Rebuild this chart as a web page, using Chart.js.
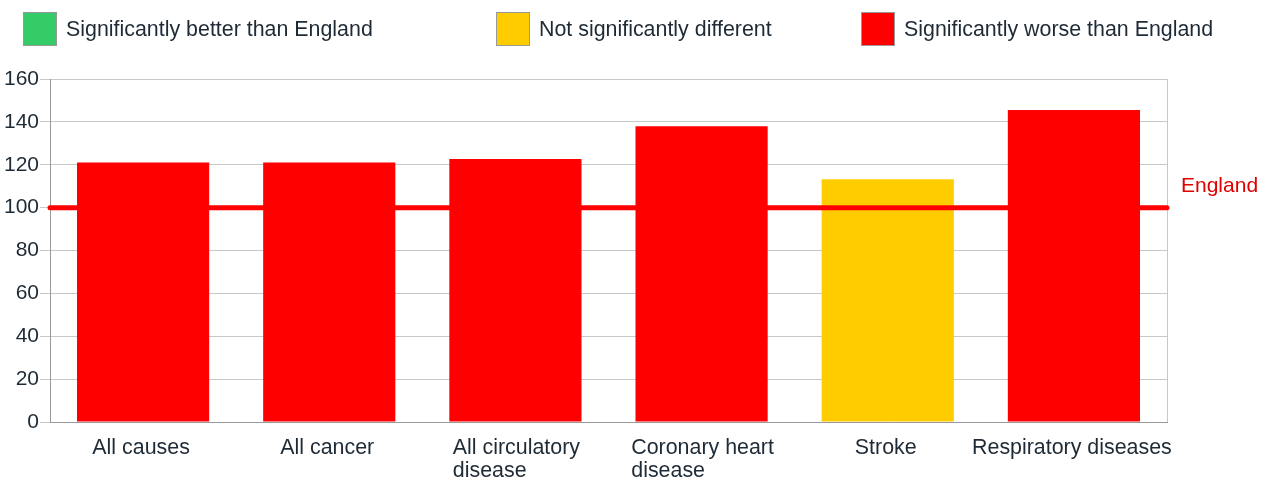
<!DOCTYPE html>
<html>
<head>
<meta charset="utf-8">
<script src="https://cdn.jsdelivr.net/npm/chart.js@4.4.1/dist/chart.umd.min.js"></script>
<style>
    body { margin: 0; background: #fff; font-family: 'Liberation Sans', Arial, sans-serif; }
    #wrap { position: relative; width: 1269px; height: 482px; }
    .key { position: absolute; top: 12px; height: 34px; display: flex; align-items: center; font-size: 21.4px; color: #1e2a35; white-space: nowrap; }
    .key .box { width: 32px; height: 32px; border: 1px solid #999; margin-right: 9px; }
    canvas { position: absolute; left: 0; top: 0; }
</style>
</head>
<body>
<div id="wrap">
    <canvas id="chart" width="1269" height="482"></canvas>
    <div class="key" style="left:23px"><span class="box" style="background:#33cc66"></span>Significantly better than England</div>
    <div class="key" style="left:496px"><span class="box" style="background:#ffcc00"></span>Not significantly different</div>
    <div class="key" style="left:861px"><span class="box" style="background:#ff0000"></span>Significantly worse than England</div>
</div>
<script>
const categories = [['All causes'], ['All cancer'], ['All circulatory', 'disease'], ['Coronary heart', 'disease'], ['Stroke'], ['Respiratory diseases']];
const values = [121, 121, 122.7, 138, 113.2, 145.5];
const significance = ['worse', 'worse', 'worse', 'worse', 'similar', 'worse'];
const englandValue = 100;
const englandLabel = 'England';
const yMin = 0, yMax = 160, yStep = 20;

const colours = { better: '#33cc66', similar: '#ffcc00', worse: '#ff0000' };
const fontFamily = "'Liberation Sans', Arial, sans-serif";
const textColour = '#1e2a35';

// right border of the plot area
const borderPlugin = {
    id: 'rightBorder',
    beforeDatasetsDraw(chart) {
        const { ctx, chartArea } = chart;
        ctx.save();
        ctx.strokeStyle = '#c8c8c8';
        ctx.lineWidth = 1;
        ctx.beginPath();
        ctx.moveTo(chartArea.right + 0.5, chartArea.top);
        ctx.lineTo(chartArea.right + 0.5, chartArea.bottom);
        ctx.stroke();
        ctx.restore();
    }
};

// England reference line with its label
const englandPlugin = {
    id: 'englandLine',
    afterDatasetsDraw(chart) {
        const { ctx, chartArea, scales } = chart;
        const y = scales.y.getPixelForValue(englandValue);
        ctx.save();
        ctx.strokeStyle = '#ff0000';
        ctx.lineWidth = 5;
        ctx.lineCap = 'round';
        ctx.beginPath();
        ctx.moveTo(chartArea.left, y);
        ctx.lineTo(chartArea.right, y);
        ctx.stroke();
        ctx.fillStyle = '#e00000';
        ctx.font = '21px ' + fontFamily;
        ctx.textBaseline = 'middle';
        ctx.textAlign = 'left';
        ctx.fillText(englandLabel, chartArea.right + 14, y - 21);
        ctx.restore();
    }
};

// category labels: block centred under the bar, lines left aligned
const xLabelPlugin = {
    id: 'xLabels',
    afterDraw(chart) {
        const { ctx, chartArea, scales } = chart;
        ctx.save();
        ctx.font = '21.4px ' + fontFamily;
        ctx.fillStyle = textColour;
        ctx.textBaseline = 'middle';
        ctx.textAlign = 'left';
        categories.forEach((lines, i) => {
            const cx = scales.x.getPixelForValue(i) + (lines.length > 1 ? 1 : -2);
            const w = Math.max(...lines.map(l => ctx.measureText(l).width));
            lines.forEach((line, j) => {
                ctx.fillText(line, cx - w / 2, chartArea.bottom + 26 + j * 23);
            });
        });
        ctx.restore();
    }
};

new Chart(document.getElementById('chart').getContext('2d'), {
    type: 'bar',
    data: {
        labels: categories.map(c => c.join(' ')),
        datasets: [{
            data: values,
            backgroundColor: significance.map(s => colours[s]),
            borderWidth: 0,
            categoryPercentage: 1,
            barPercentage: 0.71
        }]
    },
    options: {
        responsive: false,
        animation: false,
        layout: { padding: { top: 79, right: 102, bottom: 0, left: 0 } },
        plugins: { legend: { display: false }, tooltip: { enabled: false } },
        scales: {
            x: {
                ticks: { display: false },
                grid: { display: false },
                border: { color: '#999' },
                afterFit: s => { s.height = 60; }
            },
            y: {
                min: yMin,
                max: yMax,
                ticks: { stepSize: yStep, color: textColour, padding: 1, font: { size: 21, family: fontFamily } },
                grid: { color: '#c8c8c8', tickLength: 10 },
                border: { color: '#999' },
                afterFit: s => { s.width = 50; }
            }
        }
    },
    plugins: [borderPlugin, englandPlugin, xLabelPlugin]
});
</script>
</body>
</html>
